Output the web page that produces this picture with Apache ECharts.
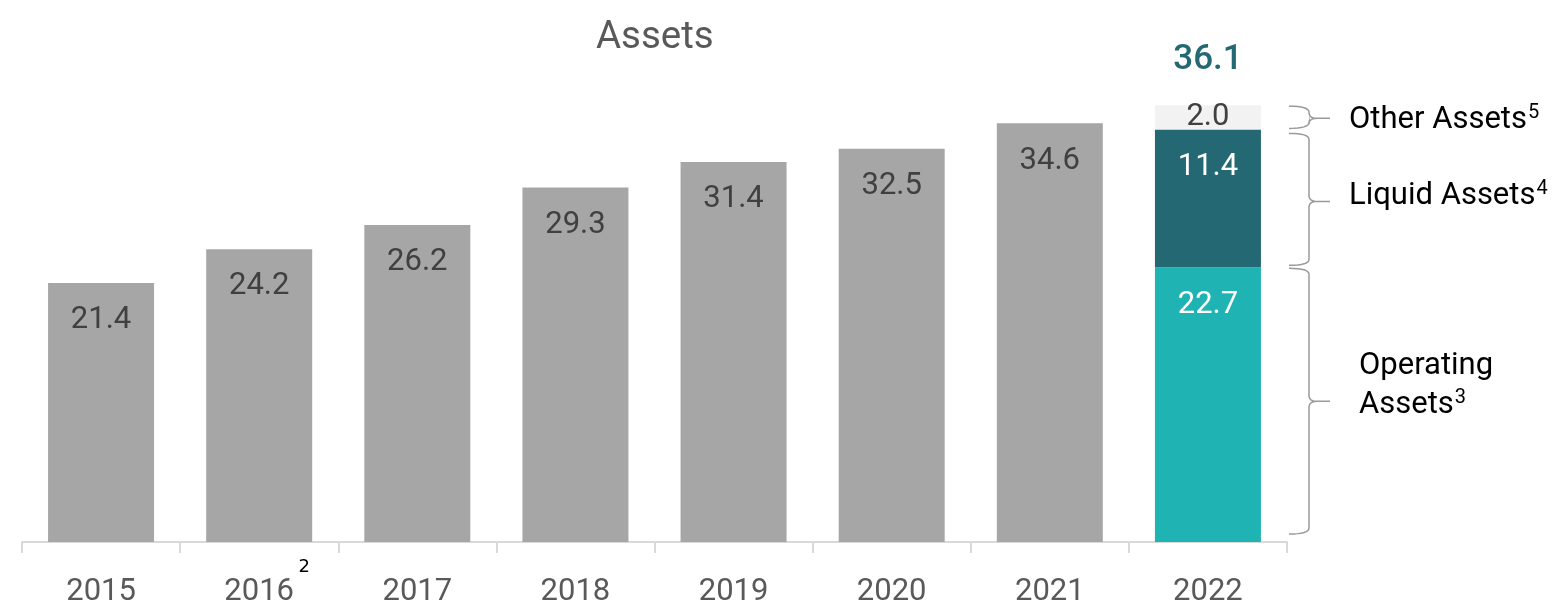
<!DOCTYPE html>
<html>
<head>
<meta charset="utf-8">
<script src="https://cdn.jsdelivr.net/npm/echarts@6/dist/echarts.min.js"></script>
<style>
  html, body { margin: 0; padding: 0; background: #fff; }
  #main { width: 1561px; height: 602px; }
</style>
</head>
<body>
<div id="main"></div>
<script>
const years = ['2015', '2016', '2017', '2018', '2019', '2020', '2021', '2022'];
const totalAssets = [21.4, 24.2, 26.2, 29.3, 31.4, 32.5, 34.6, '-'];
const operatingAssets = ['-', '-', '-', '-', '-', '-', '-', 22.7];
const liquidAssets = ['-', '-', '-', '-', '-', '-', '-', 11.4];
const otherAssets = ['-', '-', '-', '-', '-', '-', '-', 2.0];
const totals2022 = ['-', '-', '-', '-', '-', '-', '-', 36.1];

const FONT = 'Roboto';
let myChart = echarts.init(document.getElementById('main'));

const valLabel = (color, pos, dist) => ({
  show: true, position: pos, distance: dist,
  color: color, fontSize: 31, fontFamily: FONT,
  formatter: p => p.value.toFixed(1)
});

myChart.setOption({
  animation: false,
  title: {
    text: 'Assets', left: 591, top: 14,
    textStyle: { color: '#595959', fontSize: 38.5, fontWeight: 'normal', fontFamily: FONT }
  },
  grid: { left: 22, right: 274, top: 58, bottom: 60, containLabel: false, outerBoundsMode: 'none' },
  xAxis: {
    type: 'category', data: years,
    axisLine: { lineStyle: { color: '#d9d9d9', width: 2 } },
    axisTick: { show: true, length: 11, lineStyle: { color: '#d9d9d9', width: 2 } },
    axisLabel: { color: '#595959', fontSize: 31, fontFamily: FONT, margin: 35 }
  },
  yAxis: { type: 'value', min: 0, max: 40, show: false, splitLine: { show: false } },
  series: [
    { name: 'Assets', type: 'bar', stack: 'a', barWidth: 106, data: totalAssets,
      itemStyle: { color: '#a6a6a6' }, label: valLabel('#404040', 'insideTop', 22) },
    { name: 'Operating Assets', type: 'bar', stack: 'a', barWidth: 106, data: operatingAssets,
      itemStyle: { color: '#1fb3b3' }, label: valLabel('#ffffff', 'insideTop', 22) },
    { name: 'Liquid Assets', type: 'bar', stack: 'a', barWidth: 106, data: liquidAssets,
      itemStyle: { color: '#236872' }, label: valLabel('#ffffff', 'insideTop', 22) },
    { name: 'Other Assets', type: 'bar', stack: 'a', barWidth: 106, data: otherAssets,
      itemStyle: { color: '#f2f2f2' }, label: valLabel('#404040', 'inside', 0) },
    { name: 'Total', type: 'scatter', data: totals2022, symbolSize: 0.001,
      itemStyle: { opacity: 1 },
      label: { show: true, position: 'top', distance: 27, color: '#236872', fontSize: 35,
        fontWeight: 500, fontFamily: FONT, formatter: p => p.value.toFixed(1) } }
  ]
});

// braces and notes on the right, placed through the chart's scales
const px = (i, v) => myChart.convertToPixel({ gridIndex: 0 }, [i, v]);
function quad(p0, c, p1) {
  const pts = [];
  for (let t = 0; t <= 1.0001; t += 0.125) {
    const u = 1 - t;
    pts.push([u * u * p0[0] + 2 * u * t * c[0] + t * t * p1[0], u * u * p0[1] + 2 * u * t * c[1] + t * t * p1[1]]);
  }
  return pts;
}
function brace(yT, yB, ym) {
  const x0 = 1289, xv = 1309, xt = 1330, r = 6;
  return [].concat(
    quad([x0, yT], [xv, yT], [xv, yT + r]),
    quad([xv, ym - r], [xv, ym], [xv + 8, ym]),
    [[xt, ym], [xv + 8, ym]],
    quad([xv + 8, ym], [xv, ym], [xv, ym + r]),
    quad([xv, yB - r], [xv, yB], [x0, yB])
  );
}
const i22 = 7;
const op = operatingAssets[i22], lq = liquidAssets[i22], ot = otherAssets[i22];
const yBase = px(i22, 0)[1], yOp = px(i22, op)[1], yLq = px(i22, op + lq)[1], yOt = px(i22, op + lq + ot)[1];
const groups = [
  { t: yOt + 1, b: yLq - 1, m: (yOt + yLq) / 2 + 1, ty: yOt + 15, lines: [['Other Assets', '5']], x: 1349 },
  { t: yLq + 4, b: yOp - 2, m: yLq + 72, ty: yLq + 67, lines: [['Liquid Assets', '4']], x: 1349 },
  { t: yOp + 1, b: yBase - 8, m: yOp + 134, ty: 0, lines: [['Operating', ''], ['Assets', '3']], x: 1359 }
];
const gfx = [];
groups.forEach(g => {
  gfx.push({ type: 'polyline', shape: { points: brace(g.t, g.b, g.m) },
    style: { fill: null, stroke: '#9a9a9a', lineWidth: 1.5 } });
  const n = g.lines.length;
  g.lines.forEach((ln, k) => {
    const y = n === 1 ? g.ty : g.m - (n - 1 - k) * 39 + 4;
    gfx.push({ type: 'text', x: g.x, y: y,
      style: { text: '{a|' + ln[0] + '}' + (ln[1] ? '{s|' + ln[1] + '}' : ''),
        verticalAlign: 'middle',
        rich: { a: { fontSize: 31, fontFamily: FONT, color: '#1a4853', lineHeight: 34 },
                s: { fontSize: 20, fontFamily: FONT, color: '#1a4853', lineHeight: 34, verticalAlign: 'top', padding: [0, 0, 0, 1] } } } });
  });
});
const p16 = px(1, 0);
gfx.push({ type: 'text', x: p16[0] + 45, y: p16[1] + 25,
  style: { text: '2', fontSize: 18, fontFamily: 'DejaVu Sans', fill: '#000', align: 'center', verticalAlign: 'middle' } });
myChart.setOption({ graphic: gfx });
</script>
</body>
</html>
